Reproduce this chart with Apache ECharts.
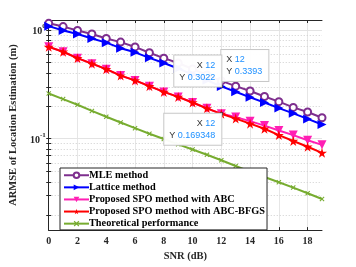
<!DOCTYPE html>
<html>
<head>
<meta charset="utf-8">
<script src="https://cdn.jsdelivr.net/npm/echarts@6/dist/echarts.min.js"></script>
<style>
html,body{margin:0;padding:0;background:#fff;}
#chart{width:356px;height:267px;}
</style>
</head>
<body>
<div id="chart"></div>
<script>
// ---- data ----
var snr = [0,1,2,3,4,5,6,7,8,9,10,11,12,13,14,15,16,17,18,19];
var mle = [1.146,1.07,0.986,0.916,0.832,0.771,0.696,0.616,0.549,0.496,0.437,0.385,0.3393,0.304,0.274,0.244,0.219,0.194,0.176,0.156];
var lattice = [1.08,0.986,0.916,0.832,0.762,0.678,0.621,0.553,0.496,0.441,0.390,0.344,0.3022,0.270,0.240,0.215,0.191,0.171,0.152,0.135];
var spoAbc = [0.697,0.629,0.549,0.489,0.435,0.380,0.343,0.304,0.269,0.242,0.215,0.190,0.169348,0.158,0.145,0.132,0.119,0.108,0.0968,0.0879];
var spoAbcBfgs = [0.697,0.629,0.549,0.489,0.435,0.380,0.343,0.304,0.269,0.242,0.215,0.190,0.169348,0.153,0.1375,0.1236,0.108,0.0954,0.0844,0.0742];
var theory = [0.26,0.231,0.205,0.180,0.159,0.141,0.125,0.111,0.0995,0.0888,0.0797,0.0713,0.0634,0.0562,0.0499,0.0445,0.0399,0.0356,0.0316,0.028];
var seriesNames = ['MLE method','Lattice method','Proposed SPO method with ABC','Proposed SPO method with ABC-BFGS','Theoretical performance'];
var xTicks = [0,2,4,6,8,10,12,14,16,18];
var yMajor = [0.1, 1];
var yMinor = [0.02,0.03,0.04,0.05,0.06,0.07,0.08,0.09,0.2,0.3,0.4,0.5,0.6,0.7,0.8,0.9];
var tipIndex = 12;

// ---- chart ----
var serif = 'Liberation Serif';
var axisCol = '#262626';
var starPath = 'path://M50,0 L61,35 L98,35 L68,57 L79,91 L50,70 L21,91 L32,57 L2,35 L39,35 Z';
var xPath = 'path://M0,1.5 L1.5,0 L5,3.5 L8.5,0 L10,1.5 L6.5,5 L10,8.5 L8.5,10 L5,6.5 L1.5,10 L0,8.5 L3.5,5 Z';

function pairs(ys){ return snr.map(function(x,i){ return [x, ys[i]]; }); }

function tip(ys, align, vAlign){
  return {
    symbol: 'rect', symbolSize: 3,
    itemStyle: {color: '#111'},
    silent: true,
    data: [{coord: [snr[tipIndex], ys[tipIndex]], value: ys[tipIndex]}],
    label: {
      show: true,
      position: [1.5, 1.5],
      align: align, verticalAlign: vAlign,
      backgroundColor: 'rgba(255,255,255,0.96)',
      borderColor: '#c8c8c8', borderWidth: 1,
      padding: [4, 6, 3, 5],
      formatter: function(p){
        return '{k|X }{v|' + snr[tipIndex] + '}\n{k|Y }{v|' + ys[tipIndex] + '}';
      },
      rich: {
        k: {fontFamily: 'Liberation Sans', fontSize: 9, color: '#333', lineHeight: 12},
        v: {fontFamily: 'Liberation Sans', fontSize: 9, color: '#1e90ff', lineHeight: 12}
      }
    }
  };
}

var gridLines = [];
yMinor.forEach(function(v){ gridLines.push({yAxis: v, lineStyle: {type: [1,2], color: '#cfcfcf', width: 1}}); });
yMajor.forEach(function(v){ gridLines.push({yAxis: v, lineStyle: {type: 'solid', color: '#e3e3e3', width: 1}}); });

var chart = echarts.init(document.getElementById('chart'), null, {renderer: 'canvas'});
chart.setOption({
  animation: false,
  backgroundColor: '#fff',
  grid: {left: 46, right: 34, top: 20, bottom: 30},
  legend: {
    orient: 'vertical', left: 60, top: 168,
    data: seriesNames,
    itemWidth: 25, itemHeight: 7, itemGap: 1.6,
    padding: [2, 2, 1, 3],
    backgroundColor: '#fff', borderColor: axisCol, borderWidth: 1, borderRadius: 0,
    textStyle: {fontFamily: serif, fontWeight: 'bold', fontSize: 10.3, lineHeight: 10.5, color: '#000', padding: [0,0,0,-5]}
  },
  xAxis: [{
    type: 'value', min: 0, max: 19, interval: 2, position: 'bottom',
    name: 'SNR (dB)', nameLocation: 'middle', nameGap: 19,
    nameTextStyle: {fontFamily: serif, fontWeight: 'bold', fontSize: 10.5, color: axisCol},
    axisLine: {show: true, lineStyle: {color: axisCol, width: 1}},
    axisTick: {show: true, inside: true, length: 3, customValues: xTicks, lineStyle: {color: axisCol}},
    axisLabel: {customValues: xTicks, margin: 6, fontFamily: serif, fontWeight: 'bold', fontSize: 10, color: axisCol},
    splitLine: {show: true, lineStyle: {color: '#e6e6e6', width: 1}}
  },{
    type: 'value', min: 0, max: 19, interval: 2, position: 'top',
    axisLine: {show: true, onZero: false, lineStyle: {color: axisCol, width: 1}},
    axisTick: {show: true, inside: true, length: 3, customValues: xTicks, lineStyle: {color: axisCol}},
    axisLabel: {show: false}, splitLine: {show: false}
  }],
  yAxis: [{
    type: 'log', logBase: 10, min: 0.0145, max: 1.23, position: 'left',
    name: 'ARMSE of Location Estimation (m)', nameLocation: 'middle', nameGap: 24,
    nameTextStyle: {fontFamily: serif, fontWeight: 'bold', fontSize: 10.5, color: axisCol},
    axisLine: {show: true, lineStyle: {color: axisCol, width: 1}},
    axisTick: {show: true, inside: true, length: 2.5, customValues: yMinor.concat(yMajor), lineStyle: {color: axisCol}},
    axisLabel: {
      customValues: yMajor, margin: 3,
      formatter: function(v){ var e = Math.round(Math.log10(v)); return '{b|10}{s|' + e + '}'; },
      rich: {
        b: {fontFamily: serif, fontWeight: 'bold', fontSize: 10, color: axisCol, verticalAlign: 'bottom', lineHeight: 14},
        s: {fontFamily: serif, fontWeight: 'bold', fontSize: 7, color: axisCol, verticalAlign: 'top', lineHeight: 14}
      }
    },
    splitLine: {show: false}
  },{
    type: 'log', logBase: 10, min: 0.0145, max: 1.23, position: 'right',
    axisLine: {show: true, lineStyle: {color: axisCol, width: 1}},
    axisTick: {show: true, inside: true, length: 2.5, customValues: yMinor.concat(yMajor), lineStyle: {color: axisCol}},
    axisLabel: {show: false}, splitLine: {show: false}
  }],
  series: [
    {name: seriesNames[4], type: 'line', data: pairs(theory), z: 2,
     symbol: xPath, symbolSize: 5, color: '#77AC30', lineStyle: {width: 2},
     markLine: {silent: true, symbol: 'none', label: {show: false}, animation: false, data: gridLines, z: 0}},
    {name: seriesNames[0], type: 'line', data: pairs(mle), z: 3,
     symbol: 'emptyCircle', symbolSize: 7, color: '#7E2F8E', lineStyle: {width: 2}, itemStyle: {borderWidth: 1.5},
     markPoint: tip(mle, 'left', 'bottom')},
    {name: seriesNames[1], type: 'line', data: pairs(lattice), z: 3,
     symbol: 'triangle', symbolRotate: -90, symbolSize: 9, color: '#0000FF', lineStyle: {width: 2},
     markPoint: tip(lattice, 'right', 'bottom')},
    {name: seriesNames[2], type: 'line', data: pairs(spoAbc), z: 3,
     symbol: 'triangle', symbolRotate: 180, symbolSize: 9, color: '#FF1FB4', lineStyle: {width: 2}},
    {name: seriesNames[3], type: 'line', data: pairs(spoAbcBfgs), z: 4,
     symbol: starPath, symbolSize: 10, color: '#FF0000', lineStyle: {width: 2},
     markPoint: tip(spoAbcBfgs, 'right', 'top')}
  ]
});
</script>
</body>
</html>
